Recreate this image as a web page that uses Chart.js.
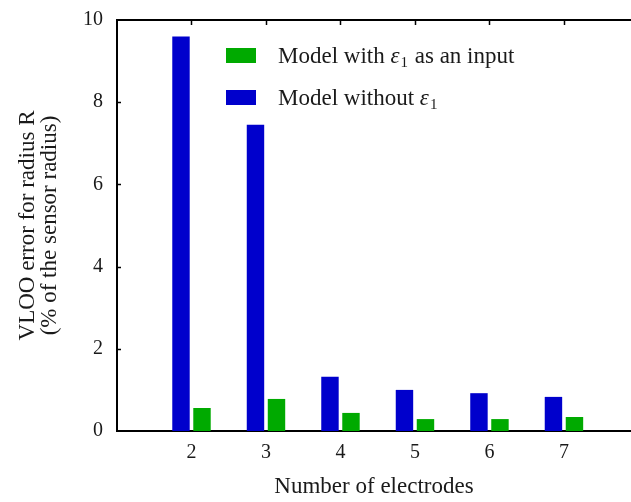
<!DOCTYPE html>
<html>
<head>
<meta charset="utf-8">
<script src="https://cdn.jsdelivr.net/npm/chart.js@4/dist/chart.umd.min.js"></script>
<style>
  html, body { margin: 0; padding: 0; background: #fff; }
  #wrap { width: 631px; height: 502px; }
</style>
</head>
<body>
<div id="wrap"><canvas id="chart" width="631" height="502"></canvas></div>
<script>
// --- data ---
const electrodes = [2, 3, 4, 5, 6, 7];
const errorWithout = [9.6, 7.45, 1.32, 1.0, 0.92, 0.83];
const errorWith = [0.56, 0.78, 0.44, 0.29, 0.29, 0.34];
const yTicks = [0, 2, 4, 6, 8, 10];

const BLUE = '#0000cc';
const GREEN = '#00aa00';
const INK = '#1a1a1a';
const SERIF = '"Liberation Serif", "DejaVu Serif", serif';

// legend: green first, then blue (reverse of bar order)
const legendItems = [
  { color: GREEN, pre: 'Model with ', post: ' as an input' },
  { color: BLUE, pre: 'Model without ', post: '' }
];

// frame: top line with downward category ticks, inward ticks on the y axis, legend
const framePlugin = {
  id: 'frame',
  afterDraw(chart) {
    const { ctx, chartArea: a, scales: { x, y } } = chart;
    ctx.save();
    ctx.strokeStyle = '#000';
    ctx.lineWidth = 2;
    ctx.beginPath();
    ctx.moveTo(a.left, a.top);
    ctx.lineTo(a.right, a.top);
    ctx.stroke();

    ctx.lineWidth = 1.5;
    ctx.beginPath();
    electrodes.forEach(v => {
      const px = Math.round(x.getPixelForValue(v)) + 0.5;
      ctx.moveTo(px, a.top);
      ctx.lineTo(px, a.top + 5);
    });
    yTicks.slice(1, -1).forEach(v => {
      const py = Math.round(y.getPixelForValue(v)) + 0.5;
      ctx.moveTo(a.left, py);
      ctx.lineTo(a.left + 4, py);
    });
    ctx.stroke();

    // legend
    const bx = a.left + 109;
    const tx = a.left + 161;
    legendItems.forEach((it, i) => {
      const top = a.top + 28 + i * 42;
      ctx.fillStyle = it.color;
      ctx.fillRect(bx, top, 30, 15);
      const base = top + 15;
      ctx.fillStyle = INK;
      ctx.textBaseline = 'alphabetic';
      ctx.textAlign = 'left';
      ctx.font = '23px ' + SERIF;
      let cx = tx;
      ctx.fillText(it.pre, cx, base);
      cx += ctx.measureText(it.pre).width;
      ctx.font = 'italic 23px ' + SERIF;
      ctx.fillText('\u03b5', cx, base);
      cx += ctx.measureText('\u03b5').width + 1;
      ctx.font = '15px ' + SERIF;
      ctx.fillText('1', cx, base + 4);
      cx += ctx.measureText('1').width + 1;
      ctx.font = '23px ' + SERIF;
      ctx.fillText(it.post, cx, base);
    });
    ctx.restore();
  }
};

const toPoints = vals => vals.map((v, i) => ({ x: electrodes[i], y: v }));

new Chart(document.getElementById('chart'), {
  type: 'bar',
  data: {
    datasets: [
      { label: 'Model without e1', data: toPoints(errorWithout), backgroundColor: BLUE,
        categoryPercentage: 0.564, barPercentage: 0.83 },
      { label: 'Model with e1 as an input', data: toPoints(errorWith), backgroundColor: GREEN,
        categoryPercentage: 0.564, barPercentage: 0.83 }
    ]
  },
  options: {
    responsive: false,
    animation: false,
    devicePixelRatio: 1,
    layout: { padding: { top: 20, right: 0, left: 0, bottom: 0 } },
    plugins: { legend: { display: false }, tooltip: { enabled: false } },
    scales: {
      x: {
        type: 'linear',
        min: 1,
        max: 7.9,
        offset: false,
        grid: { display: false, drawTicks: false, offset: false },
        border: { display: true, color: '#000', width: 2 },
        afterBuildTicks: s => { s.ticks = electrodes.map(v => ({ value: v })); },
        afterFit: s => { s.height = 71; s.paddingLeft = 0; s.paddingRight = 0; },
        ticks: { color: INK, padding: 10, font: { family: SERIF, size: 20 } },
        title: {
          display: true,
          text: 'Number of electrodes',
          color: INK,
          font: { family: SERIF, size: 23, lineHeight: 0.96 },
          padding: { top: 0, bottom: 4 }
        }
      },
      y: {
        min: 0,
        max: 10,
        grid: { display: false, drawTicks: false },
        border: { display: true, color: '#000', width: 2 },
        afterBuildTicks: s => { s.ticks = yTicks.map(v => ({ value: v })); },
        afterFit: s => { s.width = 117; s.paddingTop = 0; s.paddingBottom = 0; },
        ticks: { color: INK, padding: 14, font: { family: SERIF, size: 20 } },
        title: {
          display: true,
          text: ['VLOO error for radius R', '(% of the sensor radius)'],
          color: INK,
          font: { family: SERIF, size: 23, lineHeight: 0.96 },
          padding: { top: 17, bottom: 0 }
        }
      }
    }
  },
  plugins: [framePlugin]
});
</script>
</body>
</html>
